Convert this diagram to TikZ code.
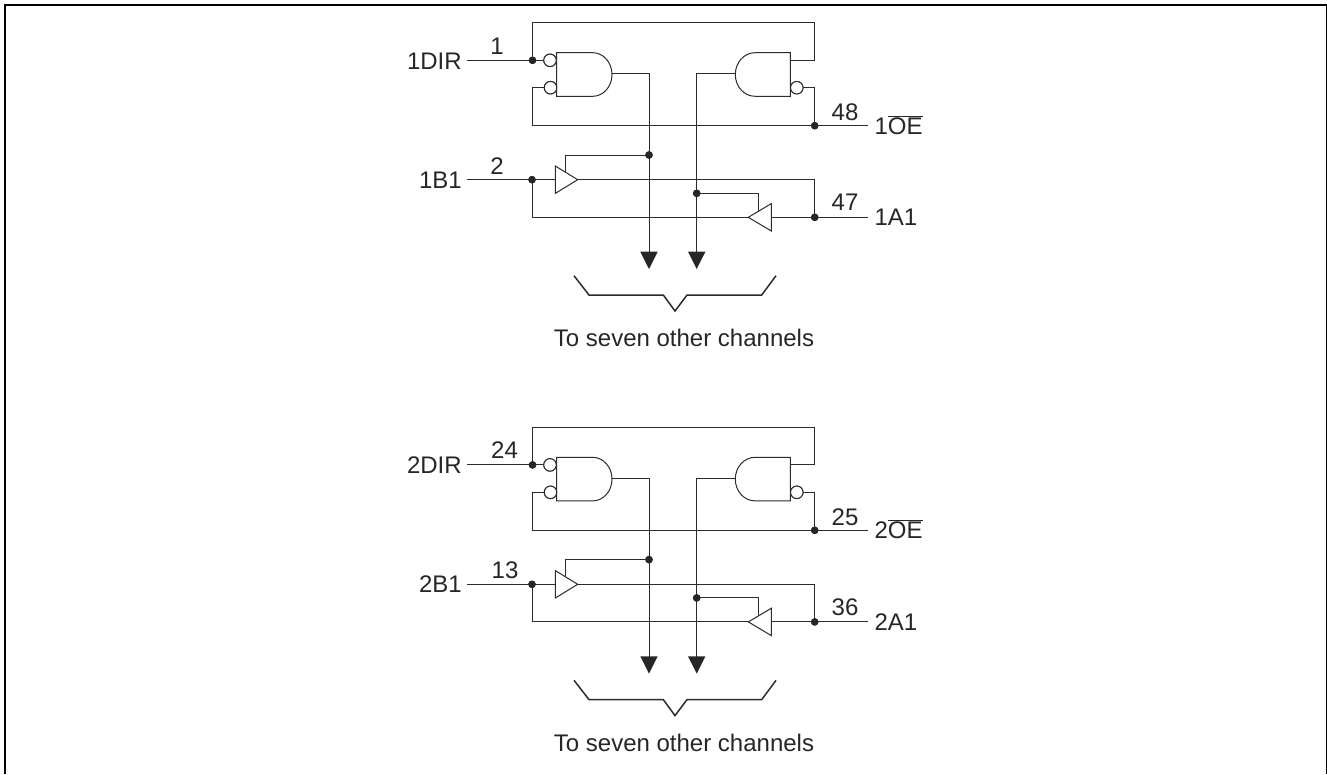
\documentclass[tikz,border=0pt]{standalone}
\usepackage{fontspec}
\setmainfont{Liberation Sans}
\usetikzlibrary{calc}
\definecolor{ink}{HTML}{2B2B2B}
\tikzset{
  wire/.style={draw=ink,line width=1pt},
  gate/.style={draw=ink,line width=1pt,fill=white,line join=miter},
  dot/.style={circle,fill=black!85,draw=none,minimum size=7.5pt,inner sep=0pt,outer sep=0pt},
  bubble/.style={circle,draw=ink,line width=1pt,fill=white,minimum size=12.5pt,inner sep=0pt,outer sep=0pt},
  lab/.style={inner sep=0pt,outer sep=0pt,text=black!85,font=\fontsize{24}{28}\selectfont},
  bigarrow/.style={fill=black!85,draw=none},
  framing/.style={draw=black,line width=2pt},
}
\newcommand{\chanblock}[9]{%
\begin{scope}[yshift=#1,name prefix=#2-]
  % anchor points
  \coordinate (topL) at (532.5,-22.5);
  \coordinate (topR) at (814.7,-22.5);
  \node[dot] (jdir) at (532.5,-60.3) {};
  \coordinate (dirS) at (467.3,-60.3);
  \node[bubble] (b1) at (550,-60.3) {};
  \node[bubble] (b2) at (550.5,-87.7) {};
  \coordinate (loopL) at (532.5,-87.7);
  \coordinate (busL) at (532.5,-125.7);
  \node[dot] (joe) at (814.7,-125.7) {};
  \coordinate (oeE) at (867.7,-125.7);
  \coordinate (andLo) at (612,-73.5);
  \coordinate (andRi) at (735.3,-73.5);
  \coordinate (downL) at (649,-73.5);
  \coordinate (downR) at (696.7,-73.5);
  \coordinate (endL) at (649,-252);
  \coordinate (endR) at (696.7,-252);
  \node[dot] (jL) at (649,-155) {};
  \node[dot] (jR) at (696.7,-193.3) {};
  \coordinate (bufS) at (565.3,-172.5);
  \coordinate (ibufS) at (758.3,-211.5);
  \coordinate (bS) at (467.3,-179.7);
  \node[dot] (jb) at (532,-179.7) {};
  \node[dot] (ja) at (814.7,-217.3) {};
  \coordinate (aE) at (867.7,-217.3);
  \coordinate (lowL) at (532,-217.3);
  \coordinate (bufT) at (577.7,-179.7);
  \coordinate (bufI) at (555.3,-179.7);
  \coordinate (ibufT) at (748.3,-217.3);
  \coordinate (ibufI) at (771.3,-217.3);
  \coordinate (rIn) at (790.3,-60);
  \coordinate (rLoop) at (814.7,-60);
  \node[bubble] (b3) at (796.8,-87.7) {};
  \coordinate (rOe) at (814.7,-87.7);
  % wires
  \draw[wire] (jdir.center) |- (topR) -- (rLoop) -- (rIn);
  \draw[wire] (dirS) -- (jdir.center) -- (b1);
  \draw[wire] (b2) -- (loopL) -- (busL) -- (oeE);
  \draw[wire] (b3) -- (rOe) -- (joe.center);
  \draw[wire] (andLo) -- (downL) -- (endL);
  \draw[wire] (andRi) -- (downR) -- (endR);
  \draw[wire] (jL.center) -| (bufS);
  \draw[wire] (jR.center) -| (ibufS);
  \draw[wire] (bS) -- (bufI);
  \draw[wire] (jb.center) -- (lowL) -- (ibufT);
  \draw[wire] (bufT) -- (ja |- bufT) -- (ja.center);
  \draw[wire] (ibufI) -- (aE);
  % gates
  \draw[gate] (556.7,-52.7) -- (592.7,-52.7) arc[start angle=90,end angle=-90,x radius=19.3,y radius=21.8] -- (556.7,-96.3) -- cycle;
  \draw[gate] (790.3,-52.7) -- (755,-52.7) arc[start angle=90,end angle=270,x radius=19.7,y radius=21.8] -- (790.3,-96.3) -- cycle;
  \draw[gate] (555.3,-166) -- (bufT) -- (555.3,-193.4) -- cycle;
  \draw[gate] (771.3,-203.6) -- (ibufT) -- (771.3,-231) -- cycle;
  \node[bubble] at (b1) {};
  \node[bubble] at (b2) {};
  \node[bubble] at (b3) {};
  \node[dot] at (jdir) {};
  \node[dot] at (joe) {};
  \node[dot] at (jL) {};
  \node[dot] at (jR) {};
  \node[dot] at (jb) {};
  \node[dot] at (ja) {};
  % arrow heads
  \fill[bigarrow] (640.3,-251.7) -- (657.7,-251.7) -- (649,-269) -- cycle;
  \fill[bigarrow] (688,-251.7) -- (705.4,-251.7) -- (696.7,-269) -- cycle;
  % brace
  \coordinate (br1) at (574,-275.7);
  \coordinate (br2) at (589,-295);
  \coordinate (br3) at (663.3,-295);
  \coordinate (br4) at (675,-311);
  \coordinate (br5) at (687,-295);
  \coordinate (br6) at (761.7,-295);
  \coordinate (br7) at (776,-275.7);
  \draw[ink,line width=1.5pt] (br1) -- (br2) -- (br3) -- (br4) -- (br5) -- (br6) -- (br7);
  % labels
  \node[lab,anchor=base east] (ldir) at (461.7,-69) {#2DIR};
  \node[lab,anchor=base east] (lb) at (461.7,-188) {#2B1};
  \node[lab,anchor=base] (p1) at (#4,-54.2) {#3};
  \node[lab,anchor=base] (p2) at (#6,-174.2) {#5};
  \node[lab,anchor=base] (p3) at (845,-120.8) {#7};
  \node[lab,anchor=base] (p4) at (845,-210.8) {#8};
  \node[lab,anchor=base west] (loe) at (874.5,-134.2) {#2$\overline{\mbox{OE}}$};
  \node[lab,anchor=base west] (la) at (874.5,-225.8) {#2A1};
  \node[lab,anchor=base] (cap) at (684,-346.5) {#9};
\end{scope}}
\begin{document}
\begin{tikzpicture}[x=1pt,y=1pt]
\useasboundingbox (0,0) rectangle (1327,-774);
\coordinate (fBL) at (5,-774);
\coordinate (fTL) at (5,-5);
\coordinate (fTR) at (1326.5,-5);
\coordinate (fBR) at (1326.5,-774);
\draw[framing] (fBL) -- (fTL) -- (fTR) -- (fBR);
\chanblock{0pt}{1}{1}{497}{2}{497}{48}{47}{To seven other channels}
\chanblock{-404.6pt}{2}{24}{504.5}{13}{505}{25}{36}{To seven other channels}
\end{tikzpicture}
\end{document}
